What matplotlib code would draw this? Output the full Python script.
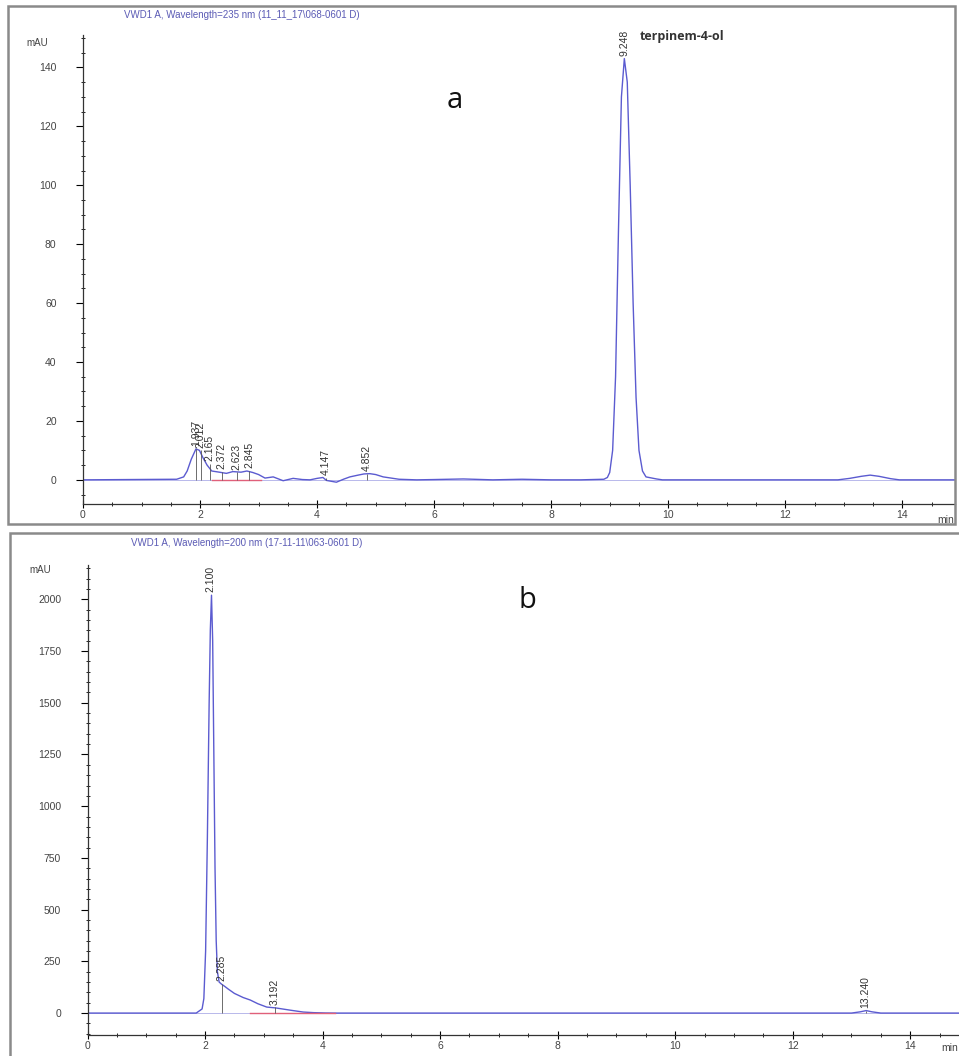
# HPLC 色谱图 a / b
import matplotlib
matplotlib.use("Agg")
import matplotlib.pyplot as plt
from matplotlib.patches import Rectangle
from matplotlib.ticker import MultipleLocator

# ---- 数据 ----
# 图 a: 235 nm
a_time = [0.0, 1.6, 1.72, 1.78, 1.85, 1.93, 1.99, 2.05, 2.12, 2.2,
          2.33, 2.45, 2.56, 2.7, 2.8, 2.9, 3.0, 3.11, 3.25, 3.42,
          3.59, 3.75, 3.88, 4.0, 4.1, 4.16, 4.33, 4.45, 4.56, 4.7,
          4.8, 4.9, 5.0, 5.13, 5.4, 5.7, 6.0, 6.5, 7.0, 7.5,
          8.0, 8.5, 8.9, 8.96, 9.0, 9.05, 9.1, 9.15, 9.2, 9.25,
          9.3, 9.35, 9.4, 9.45, 9.5, 9.56, 9.62, 9.8, 9.9, 12.9,
          13.1, 13.3, 13.45, 13.6, 13.8, 13.95, 14.9]
a_mau = [0.0, 0.2, 1.0, 3.0, 7.0, 10.5, 10.0, 7.5, 5.0, 3.0,
         2.6, 2.2, 2.8, 2.6, 3.0, 2.5, 1.8, 0.6, 1.0, -0.3,
         0.5, 0.1, 0.0, 0.5, 0.8, -0.2, -0.8, 0.2, 1.0, 1.6,
         2.0, 2.1, 1.8, 1.0, 0.2, 0.0, 0.1, 0.3, 0.0, 0.2,
         0.0, 0.0, 0.2, 0.8, 2.5, 10.0, 35.0, 85.0, 130.0, 143.0,
         135.0, 100.0, 60.0, 28.0, 10.0, 3.0, 1.0, 0.3, 0.0, 0.0,
         0.5, 1.2, 1.6, 1.2, 0.4, 0.0, 0.0]
a_peak_rt = [1.937, 2.012, 2.165, 2.372, 2.623, 2.845, 4.147, 4.852, 9.248]
a_peak_h = [10.5, 10.0, 5.5, 2.6, 2.5, 3.0, 0.6, 2.0, 143.0]
a_base_t = [2.2, 3.05]      # 积分基线 (红)
a_title = "VWD1 A, Wavelength=235 nm (11_11_17\\068-0601 D)"

# 图 b: 200 nm
b_time = [0.0, 1.85, 1.95, 1.98, 2.01, 2.04, 2.07, 2.09, 2.11, 2.13,
          2.15, 2.17, 2.19, 2.21, 2.24, 2.28, 2.33, 2.4, 2.5, 2.65,
          2.77, 2.9, 3.05, 3.2, 3.45, 3.67, 3.85, 4.05, 4.25, 13.0,
          13.15, 13.25, 13.35, 13.5, 14.83]
b_mau = [0, 0, 20, 70, 300, 850, 1500, 1850, 2020, 1800,
         1250, 700, 350, 200, 150, 140, 130, 115, 95, 75,
         63, 45, 29, 25, 14, 5, 2, 0.5, 0, 0,
         6, 12, 6, 0, 0]
b_peak_rt = [2.100, 2.285, 3.192, 13.240]
b_peak_h = [2020, 140, 27, 12]
b_base_t = [2.77, 4.22]
b_title = "VWD1 A, Wavelength=200 nm (17-11-11\\063-0601 D)"

W, H = 959, 1056
LINE = "#5b5bd0"
TXT = "#444444"


def fx(x):
    return x / W


def fy(y):
    return 1 - y / H


def draw_panel(fig, rect, t, y, rts, hs, base_t, ylim, xmax, ymaj, ymin):
    ax = fig.add_axes(rect)
    ax.plot(t, y, color=LINE, lw=1.0)
    ax.axhline(0, color=LINE, lw=0.6, alpha=0.5)
    ax.plot(base_t, [0, 0], color="#e0607a", lw=1.0)
    # 峰标记 (大峰不画垂线)
    top = max(hs)
    for rt, h in zip(rts, hs):
        if h < 0.5 * top:
            ax.vlines(rt, 0, h, color="#555555", lw=0.6)
        ax.annotate("%.3f" % rt, (rt, h), xytext=(0, 2), textcoords="offset points",
                    rotation=90, ha="center", va="bottom", fontsize=7.5,
                    color="#333333", family="Liberation Sans")
    ax.set_xlim(0, xmax)
    ax.set_ylim(*ylim)
    ax.xaxis.set_major_locator(MultipleLocator(2))
    ax.xaxis.set_minor_locator(MultipleLocator(0.5))
    ax.yaxis.set_major_locator(MultipleLocator(ymaj))
    ax.yaxis.set_minor_locator(MultipleLocator(ymin))
    for s in ["top", "right"]:
        ax.spines[s].set_visible(False)
    for s in ["left", "bottom"]:
        ax.spines[s].set_color("#333333")
        ax.spines[s].set_linewidth(0.9)
    ax.tick_params(axis="x", which="major", direction="inout", length=6, width=0.8,
                   labelsize=7.5, labelcolor=TXT, pad=1)
    ax.tick_params(axis="x", which="minor", direction="inout", length=3, width=0.6)
    ax.tick_params(axis="y", which="major", direction="out", length=5, width=0.8,
                   labelsize=7.5, labelcolor=TXT, pad=14)
    ax.tick_params(axis="y", which="minor", direction="inout", length=3, width=0.6)
    for lab in ax.get_xticklabels() + ax.get_yticklabels():
        lab.set_family("Liberation Sans")
    ax.patch.set_alpha(0)
    return ax


def main():
    fig = plt.figure(figsize=(W / 100, H / 100), dpi=100)

    # 外框
    fig.patches.append(Rectangle((fx(8), fy(524)), fx(947), 518 / H, transform=fig.transFigure,
                                 fill=False, edgecolor="#8a8a8a", lw=1.8))
    fig.patches.append(Rectangle((fx(10), fy(1070)), fx(960), 537 / H, transform=fig.transFigure,
                                 fill=False, edgecolor="#8a8a8a", lw=1.8))

    # 图 a
    ax1 = draw_panel(fig, [fx(83), fy(504), 872 / W, 469 / H], a_time, a_mau,
                     a_peak_rt, a_peak_h, a_base_t, (-8.2, 151), 14.9, 20, 5)
    ax1.text(9.52, 150.5, "terpinem-4-ol", fontsize=9, color="#333333",
             va="center", family="Open Sans", fontweight="bold")

    # 图 b
    ax2 = draw_panel(fig, [fx(87.5), fy(1035), 871.5 / W, 470 / H], b_time, b_mau,
                     b_peak_rt, b_peak_h, b_base_t, (-106, 2166), 14.83, 250, 50)

    # 标题及单位
    fig.text(fx(242), fy(15), a_title, fontsize=7, color="#5b5bb5", ha="center",
             va="center", family="Liberation Sans")
    fig.text(fx(247), fy(543), b_title, fontsize=7, color="#5b5bb5", ha="center",
             va="center", family="Liberation Sans")
    fig.text(fx(37), fy(43), "mAU", fontsize=7, color=TXT, ha="center", va="center",
             family="Liberation Sans")
    fig.text(fx(40), fy(570), "mAU", fontsize=7, color=TXT, ha="center", va="center",
             family="Liberation Sans")
    fig.text(fx(946), fy(520), "min", fontsize=7.5, color=TXT, ha="center", va="center",
             family="Liberation Sans")
    fig.text(fx(950), fy(1048), "min", fontsize=7.5, color=TXT, ha="center", va="center",
             family="Liberation Sans")

    fig.text(fx(455), fy(100), "a", fontsize=21, color="#111111", ha="center",
             va="center", family="Open Sans")
    fig.text(fx(527), fy(600), "b", fontsize=21, color="#111111", ha="center",
             va="center", family="Open Sans")

    plt.savefig("out.png", dpi=100)


if __name__ == '__main__':
    main()
